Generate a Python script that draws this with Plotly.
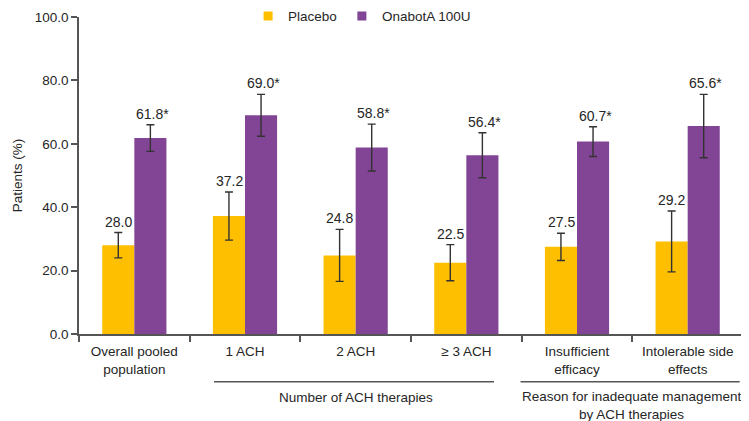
import plotly.graph_objects as go

categories = ["Overall pooled<br>population", "1 ACH", "2 ACH", "≥ 3 ACH",
              "Insufficient<br>efficacy", "Intolerable side<br>effects"]
placebo = [28.0, 37.2, 24.8, 22.5, 27.5, 29.2]
onabot = [61.8, 69.0, 58.8, 56.4, 60.7, 65.6]
placebo_err = [4.0, 7.6, 8.2, 5.7, 4.3, 9.6]
onabot_err = [4.2, 6.6, 7.4, 7.1, 4.7, 10.0]
placebo_labels = ["28.0", "37.2", "24.8", "22.5", "27.5", "29.2"]
onabot_labels = ["61.8*", "69.0*", "58.8*", "56.4*", "60.7*", "65.6*"]
y_ticks = [0, 20, 40, 60, 80, 100]

YELLOW = "#FDBF00"
PURPLE = "#824595"
TXT = "#262626"
AX = "#555555"
FONT = "Liberation Sans, Arial, sans-serif"

fig = go.Figure()
fig.add_trace(go.Bar(
    x=categories, y=placebo, name="Placebo", marker=dict(color=YELLOW, line=dict(width=0)),
    showlegend=False,
    error_y=dict(type="data", array=placebo_err, visible=True, color="#333333", thickness=1.4, width=4),
))
fig.add_trace(go.Bar(
    x=categories, y=onabot, name="OnabotA 100U", marker=dict(color=PURPLE, line=dict(width=0)),
    showlegend=False,
    error_y=dict(type="data", array=onabot_err, visible=True, color="#333333", thickness=1.4, width=4),
))
# legend entries with small square swatches
fig.add_trace(go.Scatter(x=[None], y=[None], mode="markers", name="Placebo",
                         marker=dict(symbol="square", size=9, color=YELLOW)))
fig.add_trace(go.Scatter(x=[None], y=[None], mode="markers", name="OnabotA 100U",
                         marker=dict(symbol="square", size=9, color=PURPLE)))

annotations = []
for c, v, e, t in zip(categories, placebo, placebo_err, placebo_labels):
    annotations.append(dict(x=c, y=v + e, text=t, xref="x", yref="y", showarrow=False,
                            yanchor="bottom", xshift=-16, yshift=1,
                            font=dict(size=14, color=TXT, family=FONT)))
for c, v, e, t in zip(categories, onabot, onabot_err, onabot_labels):
    annotations.append(dict(x=c, y=v + e, text=t, xref="x", yref="y", showarrow=False,
                            yanchor="bottom", xshift=18, yshift=1,
                            font=dict(size=14, color=TXT, family=FONT)))

annotations.append(dict(x=2.0, y=-0.199, xref="x", yref="paper", text="Number of ACH therapies",
                        showarrow=False, yanchor="middle",
                        font=dict(size=13.5, color=TXT, family=FONT)))
annotations.append(dict(x=4.49, y=-0.225, xref="x", yref="paper",
                        text="Reason for inadequate management<br>by ACH therapies",
                        showarrow=False, yanchor="middle",
                        font=dict(size=13.5, color=TXT, family=FONT)))

shapes = [
    dict(type="line", xref="x", yref="paper", x0=0.72, x1=3.25, y0=-0.151, y1=-0.151,
         line=dict(color=AX, width=1.5)),
    dict(type="line", xref="x", yref="paper", x0=3.49, x1=5.47, y0=-0.151, y1=-0.151,
         line=dict(color=AX, width=1.5)),
]

# page body has an 8px default margin, so the figure is sized/offset to compensate
fig.update_layout(
    width=741, height=413,
    margin=dict(l=71, r=6, t=9, b=87, autoexpand=False),
    paper_bgcolor="white", plot_bgcolor="white",
    barmode="group", bargap=0.42, bargroupgap=0,
    font=dict(family=FONT, size=13.5, color=TXT),
    legend=dict(orientation="h", xref="container", yref="container", x=0.324, y=0.98,
                xanchor="left", yanchor="middle",
                font=dict(size=13.5, color=TXT, family=FONT), bgcolor="rgba(0,0,0,0)",
                itemwidth=30, tracegroupgap=0),
    annotations=annotations,
    shapes=shapes,
    showlegend=True,
)
fig.update_xaxes(
    showline=True, linecolor=AX, linewidth=1.5, ticks="outside", tickson="boundaries",
    ticklen=6, tickcolor=AX, tickwidth=1.5, showgrid=False, automargin=False,
    ticklabelstandoff=4, tickfont=dict(size=13.5, color=TXT, family=FONT),
)
fig.update_yaxes(
    range=[0, 100], tickvals=y_ticks, tickformat=".1f", showline=True, linecolor=AX,
    linewidth=1.5, ticks="outside", ticklen=6, tickcolor=AX, tickwidth=1.5, showgrid=False,
    zeroline=False, automargin=False, tickfont=dict(size=13.5, color=TXT, family=FONT),
    title=dict(text="Patients (%)", font=dict(size=13.5, color=TXT, family=FONT), standoff=9),
)

fig.write_html("out.html")
